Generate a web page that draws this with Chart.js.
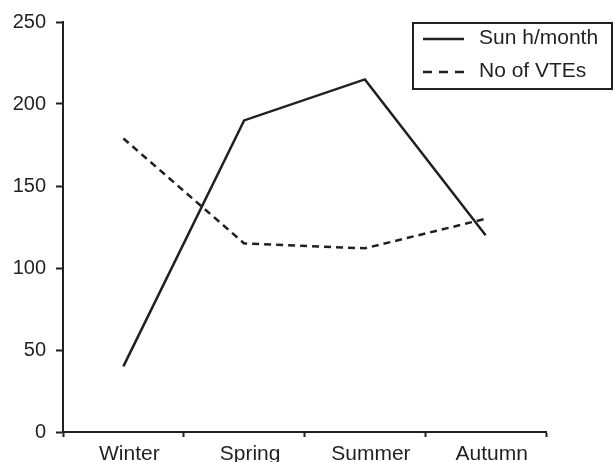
<!DOCTYPE html>
<html>
<head>
<meta charset="utf-8">
<script src="https://cdn.jsdelivr.net/npm/chart.js@4/dist/chart.umd.min.js"></script>
<style>
  html, body { margin: 0; padding: 0; background: #fff; }
  #wrap { width: 614px; height: 462px; }
</style>
</head>
<body>
<div id="wrap"><canvas id="chart" width="614" height="462"></canvas></div>
<script>
const seasons = ['Winter', 'Spring', 'Summer', 'Autumn'];
const sunHours = [40, 190, 215, 120];
const vteCounts = [179, 115, 112, 130];
const seriesNames = ['Sun h/month', 'No of VTEs'];

const ink = '#231f20';
const font = { family: 'Liberation Sans, Arial, Helvetica, sans-serif', size: 21 };

// legend drawn as a framed box in the top right corner
const boxLegend = {
    id: 'boxLegend',
    afterDraw(chart) {
        const ctx = chart.ctx;
        ctx.save();
        ctx.strokeStyle = ink;
        ctx.lineWidth = 2;
        ctx.strokeRect(413, 23, 199, 66);
        const rows = [39, 72];
        chart.data.datasets.forEach((ds, i) => {
            const y = rows[i];
            ctx.beginPath();
            ctx.setLineDash(ds.borderDash ? [9, 7] : []);
            ctx.lineWidth = ds.borderWidth;
            ctx.strokeStyle = ds.borderColor;
            ctx.moveTo(423, y);
            ctx.lineTo(464, y);
            ctx.stroke();
            ctx.setLineDash([]);
            ctx.fillStyle = ink;
            ctx.font = font.size + 'px ' + font.family;
            ctx.textBaseline = 'middle';
            ctx.fillText(ds.label, 479, y - 1);
        });
        ctx.restore();
    }
};

new Chart(document.getElementById('chart'), {
    type: 'line',
    data: {
        labels: seasons,
        datasets: [
            {
                label: seriesNames[0],
                data: sunHours,
                borderColor: ink,
                borderWidth: 2.5,
                pointRadius: 0,
                tension: 0
            },
            {
                label: seriesNames[1],
                data: vteCounts,
                borderColor: ink,
                borderWidth: 2.5,
                borderDash: [7, 5],
                pointRadius: 0,
                tension: 0
            }
        ]
    },
    options: {
        responsive: false,
        animation: false,
        layout: { padding: { top: 22, right: 68, left: 0, bottom: 0 } },
        plugins: {
            legend: { display: false },
            tooltip: { enabled: false }
        },
        scales: {
            x: {
                offset: true,
                grid: { offset: true, drawOnChartArea: false, tickLength: 5, tickColor: ink, tickWidth: 2 },
                border: { color: ink, width: 2 },
                ticks: { color: ink, font: font, padding: 5, maxRotation: 0, labelOffset: 6 },
                afterFit(scale) { scale.height = 30; }
            },
            y: {
                min: 0,
                max: 250,
                grid: { drawOnChartArea: false, tickLength: 7, tickColor: ink, tickWidth: 2 },
                border: { color: ink, width: 2 },
                ticks: { color: ink, font: { family: font.family, size: 20 }, stepSize: 50, padding: 10 },
                afterFit(scale) { scale.width = 63; }
            }
        }
    },
    plugins: [boxLegend]
});
</script>
</body>
</html>
